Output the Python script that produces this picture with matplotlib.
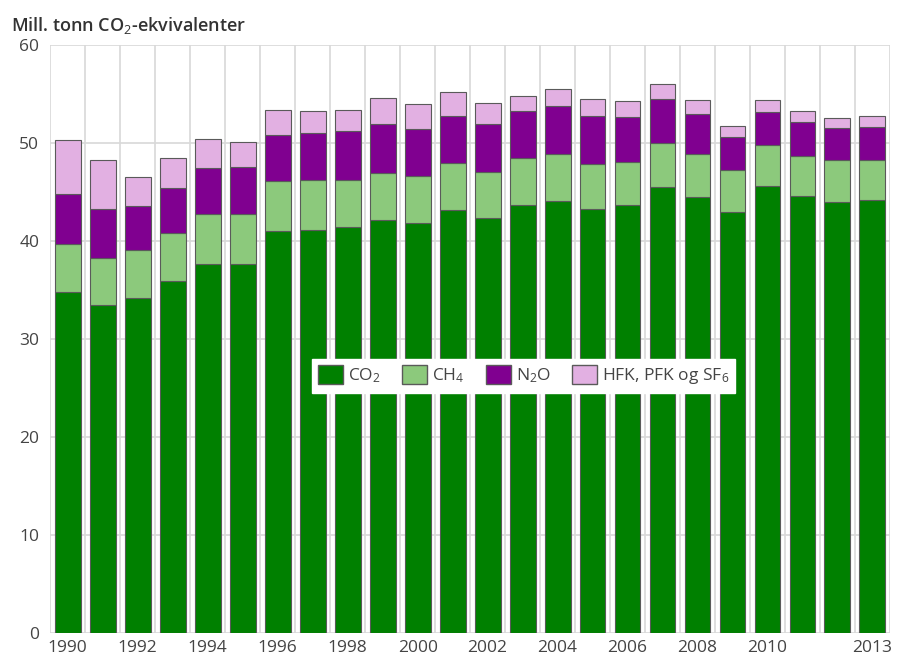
import numpy as np
import matplotlib
matplotlib.use("Agg")
import matplotlib.pyplot as plt
from matplotlib.patches import Patch

plt.rcParams['font.family'] = ['Open Sans', 'DejaVu Sans']
plt.rcParams['mathtext.fontset'] = 'custom'
plt.rcParams['mathtext.rm'] = 'Open Sans'
plt.rcParams['mathtext.it'] = 'Open Sans'
plt.rcParams['mathtext.bf'] = 'Open Sans:semibold'

# Greenhouse gas emissions, million tonnes CO2 equivalents (cumulative tops per gas)
years = list(range(1990, 2014))
co2_top = [34.8, 33.5, 34.2, 35.9, 37.7, 37.7, 41.0, 41.1, 41.4, 42.1, 41.8, 43.2,
           42.3, 43.7, 44.1, 43.3, 43.7, 45.5, 44.5, 43.0, 45.6, 44.6, 44.0, 44.2]
ch4_top = [39.7, 38.3, 39.1, 40.8, 42.8, 42.8, 46.1, 46.2, 46.2, 46.9, 46.6, 48.0,
           47.0, 48.5, 48.9, 47.9, 48.1, 50.0, 48.9, 47.2, 49.8, 48.7, 48.3, 48.3]
n2o_top = [44.8, 43.3, 43.6, 45.4, 47.4, 47.5, 50.8, 51.0, 51.2, 51.9, 51.4, 52.8,
           51.9, 53.3, 53.8, 52.8, 52.7, 54.5, 53.0, 50.6, 53.2, 52.1, 51.5, 51.6]
total = [50.3, 48.3, 46.5, 48.5, 50.4, 50.1, 53.4, 53.3, 53.4, 54.6, 54.0, 55.2,
         54.1, 54.8, 55.5, 54.5, 54.3, 56.0, 54.4, 51.7, 54.4, 53.3, 52.6, 52.8]
tick_years = [1990, 1992, 1994, 1996, 1998, 2000, 2002, 2004, 2006, 2008, 2010, 2013]

co2 = np.array(co2_top)
ch4 = np.array(ch4_top) - co2
n2o = np.array(n2o_top) - np.array(ch4_top)
fgas = np.array(total) - np.array(n2o_top)

series = [
    (co2, '#008000', r'CO$_2$'),
    (ch4, '#8cc97c', r'CH$_4$'),
    (n2o, '#800090', r'N$_2$O'),
    (fgas, '#e2b0e2', r'HFK, PFK og SF$_6$'),
]

fig = plt.figure(figsize=(8.98, 6.62), dpi=100)
ax = fig.add_axes([0.056, 0.044, 0.935, 0.888])

x = np.arange(len(years))
bottom = np.zeros(len(years))
for vals, color, label in series:
    ax.bar(x, vals, bottom=bottom, width=0.74, color=color,
           edgecolor='#5a5a5a', linewidth=0.8, zorder=3)
    bottom += vals

ax.set_xlim(-0.5, len(years) - 0.5)
ax.set_ylim(0, 60)
ax.set_yticks(range(0, 61, 10))
ax.set_xticks([years.index(y) for y in tick_years])
ax.set_xticklabels([str(y) for y in tick_years])

# vertical grid between categories, horizontal grid on the y ticks
for xb in np.arange(-0.5, len(years), 1.0):
    ax.axvline(xb, color='#d8d8d8', linewidth=1.2, zorder=1)
ax.yaxis.grid(True, color='#d8d8d8', linewidth=1.2, zorder=1)
ax.set_axisbelow(True)

for s in ax.spines.values():
    s.set_visible(False)
ax.tick_params(length=0, labelsize=12.5, colors='#444444', pad=5)
ax.tick_params(axis='y', pad=8)

handles = [Patch(facecolor=c, edgecolor='#5a5a5a', label=l) for _, c, l in series]
leg = ax.legend(handles=handles, loc='center', bbox_to_anchor=(0.564, 0.437),
                ncol=4, frameon=True, fancybox=False, fontsize=12.5,
                handlelength=1.4, handleheight=1.25, handletextpad=0.3,
                columnspacing=1.25, borderpad=0.35, framealpha=1)
leg.get_frame().set_edgecolor('white')
for t in leg.get_texts():
    t.set_color('#444444')

fig.text(0.012, 0.962, r'Mill. tonn CO$_2$-ekvivalenter', fontsize=13,
         fontweight='semibold', color='#333333', ha='left', va='center')

fig.savefig('out.png', dpi=100)
